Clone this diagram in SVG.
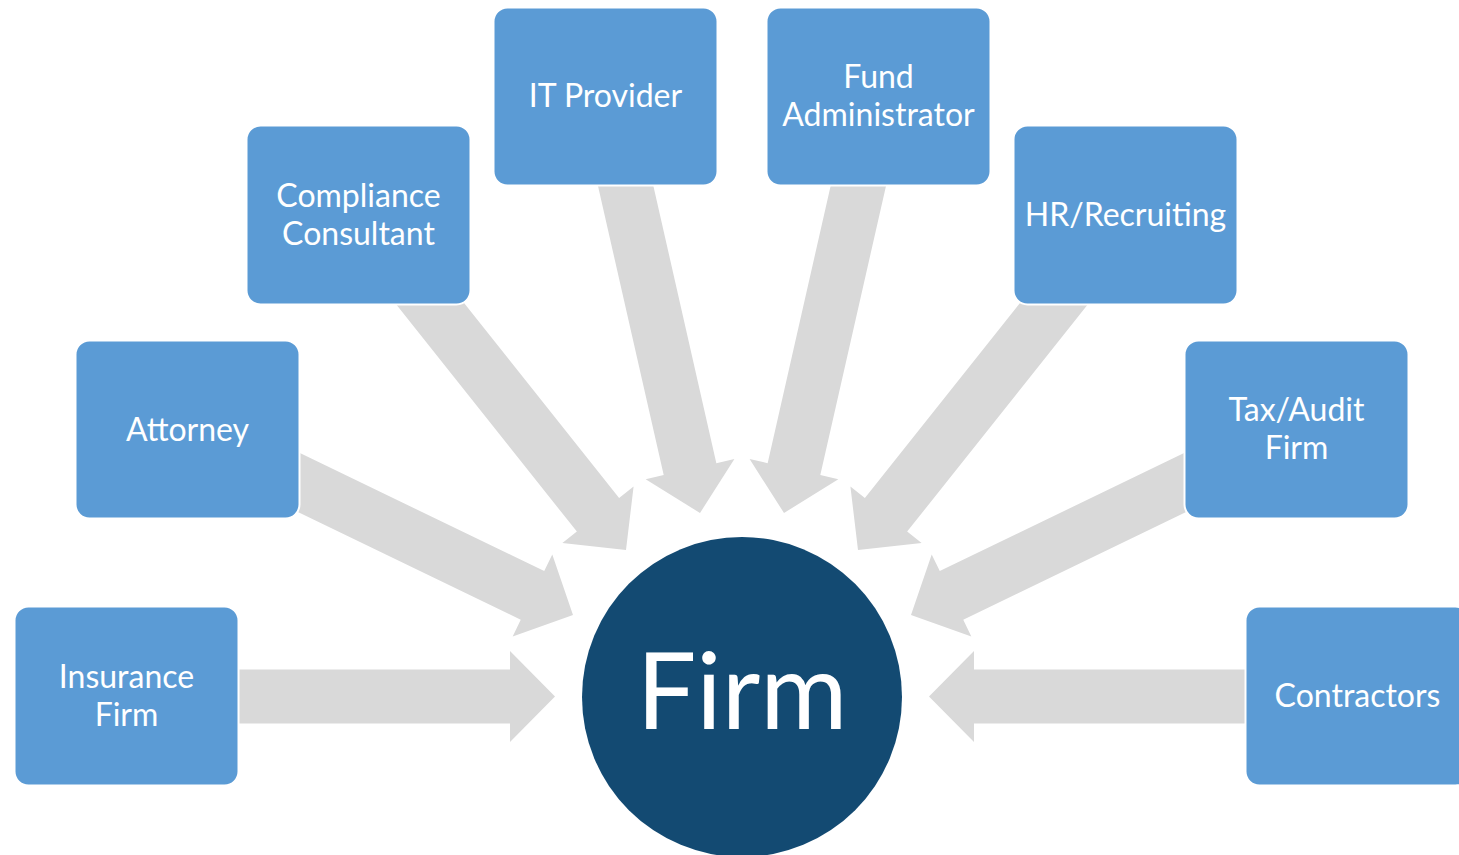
<svg xmlns="http://www.w3.org/2000/svg" width="1459" height="855" viewBox="0 0 1459 855">
<style>
.box{fill:#5B9BD5;stroke:#FFFFFF;stroke-width:2}
.lbl{fill:#FFFFFF;font-family:Lato,"Open Sans",sans-serif;font-size:32px;text-anchor:middle}
.arr{fill:#D9D9D9}
</style>
<defs>
<path id="ar" d="M0,0 L-45,-45.5 L-45,-27 L-360,-27 L-360,27 L-45,27 L-45,45.5 Z"/>
<path id="arh" d="M0,0 L-45,-45.5 L-45,-27 L-325,-27 L-325,27 L-45,27 L-45,45.5 Z"/>
</defs>
<rect width="1459" height="855" fill="#FFFFFF"/>
<g id="connectors" class="arr">
<use href="#arh" transform="translate(555,696.5)"/>
<use href="#ar" transform="translate(573,615) rotate(25.8)"/>
<use href="#ar" transform="translate(626,550) rotate(51.5)"/>
<use href="#ar" transform="translate(700,513) rotate(77.2)"/>
<use href="#ar" transform="translate(784,513) rotate(102.8)"/>
<use href="#ar" transform="translate(858,550) rotate(128.5)"/>
<use href="#ar" transform="translate(911,615) rotate(154.2)"/>
<use href="#arh" transform="translate(929,696.5) rotate(180)"/>
</g>
<g id="node-insurance"><rect class="box" x="14.5" y="606.5" width="224" height="179" rx="14"/><text class="lbl" x="126.5" y="688">Insurance</text><text class="lbl" x="126.5" y="726">Firm</text></g>
<g id="node-attorney"><rect class="box" x="75.5" y="340.5" width="224" height="178" rx="14"/><text class="lbl" x="187.5" y="441">Attorney</text></g>
<g id="node-compliance"><rect class="box" x="246.5" y="125.5" width="224" height="179" rx="14"/><text class="lbl" x="358.5" y="207">Compliance</text><text class="lbl" x="358.5" y="245">Consultant</text></g>
<g id="node-it"><rect class="box" x="493.5" y="7.5" width="224" height="178" rx="14"/><text class="lbl" x="605.5" y="107">IT Provider</text></g>
<g id="node-fund"><rect class="box" x="766.5" y="7.5" width="224" height="178" rx="14"/><text class="lbl" x="878.5" y="88">Fund</text><text class="lbl" x="878.5" y="126">Administrator</text></g>
<g id="node-hr"><rect class="box" x="1013.5" y="125.5" width="224" height="179" rx="14"/><text class="lbl" x="1125.5" y="226">HR/Recruiting</text></g>
<g id="node-tax"><rect class="box" x="1184.5" y="340.5" width="224" height="178" rx="14"/><text class="lbl" x="1296.5" y="421">Tax/Audit</text><text class="lbl" x="1296.5" y="459">Firm</text></g>
<g id="node-contractors"><rect class="box" x="1245.5" y="606.5" width="224" height="179" rx="14"/><text class="lbl" x="1357.5" y="707">Contractors</text></g>
<g id="node-firm"><circle cx="742" cy="697" r="160" fill="#134A72"/><text x="742" y="729" fill="#FFFFFF" font-family="Lato,'Open Sans',sans-serif" font-size="106" text-anchor="middle">Firm</text></g>
</svg>
